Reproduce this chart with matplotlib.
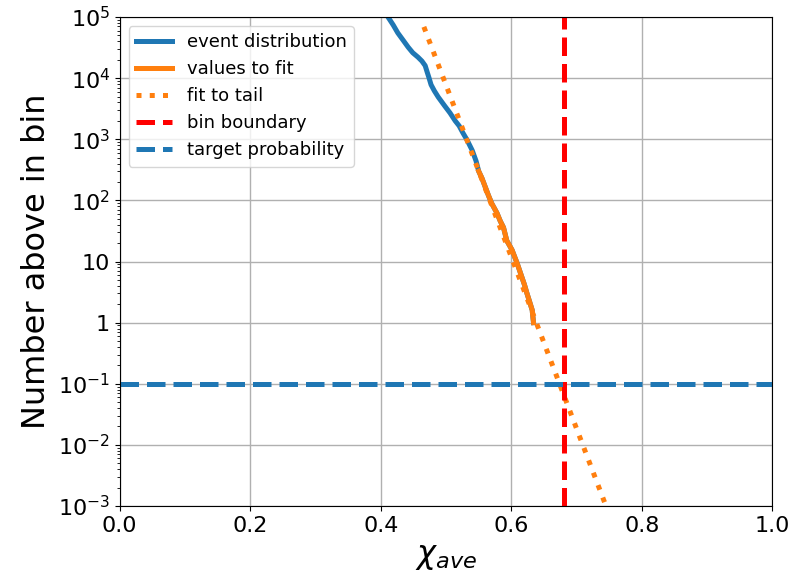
import matplotlib
matplotlib.use("Agg")
import matplotlib.pyplot as plt
import numpy as np
from matplotlib.ticker import FixedLocator, LogLocator, NullFormatter

# cumulative counts
dist_x = [0.405, 0.411, 0.419, 0.426, 0.434, 0.442, 0.449, 0.457, 0.463, 0.468,
          0.471, 0.474, 0.477, 0.482, 0.488, 0.498, 0.506, 0.514, 0.520, 0.526,
          0.532, 0.540, 0.546]
dist_y = [1.3e5, 1.0e5, 7.4e4, 5.5e4, 4.2e4, 3.2e4, 2.6e4, 2.2e4, 1.9e4, 1.6e4,
          1.26e4, 1.0e4, 7.8e3, 6.2e3, 4.9e3, 3.5e3, 2.7e3, 2.0e3, 1.66e3, 1.26e3,
          980, 660, 440]
fit_vals_x = [0.550, 0.555, 0.560, 0.565, 0.570, 0.578, 0.583, 0.588, 0.593, 0.601,
              0.605, 0.609, 0.616, 0.620, 0.624, 0.628, 0.632, 0.634]
fit_vals_y = [300, 230, 166, 120, 89, 62, 46, 36, 22, 15.5, 12, 9.3, 5.6, 4.2,
              3.0, 2.2, 1.6, 1.0]
tail_x = [0.466, 0.76]
tail_y = [6.9e4, 3.8e-4]
bin_edge = 0.68
target = 0.1

ytick_vals = [1e-3, 1e-2, 1e-1, 1, 10, 1e2, 1e3, 1e4, 1e5]
ytick_labels = ['$10^{-3}$', '$10^{-2}$', '$10^{-1}$', '1', '10',
                '$10^{2}$', '$10^{3}$', '$10^{4}$', '$10^{5}$']

fig = plt.figure(figsize=(7.93, 5.86), dpi=100)
ax = fig.add_axes([0.151, 0.1365, 0.823, 0.8345])

lw = 3.6
ax.plot(dist_x + fit_vals_x, dist_y + fit_vals_y, color='C0', lw=lw, label='event distribution')
ax.plot(fit_vals_x, fit_vals_y, color='C1', lw=lw, label='values to fit')
ax.plot(tail_x, tail_y, color='C1', lw=lw, ls=':', label='fit to tail')
ax.axvline(bin_edge, color='red', lw=lw, ls='--', label='bin boundary')
ax.axhline(target, color='C0', lw=lw, ls='--', label='target probability')

ax.set_yscale('log')
ax.set_xlim(0, 1)
ax.set_ylim(1e-3, 1e5)
ax.yaxis.set_major_locator(FixedLocator(ytick_vals))
ax.set_yticklabels(ytick_labels)
ax.yaxis.set_minor_locator(LogLocator(base=10, subs=np.arange(2, 10), numticks=20))
ax.yaxis.set_minor_formatter(NullFormatter())
ax.tick_params(labelsize=16)
ax.grid(True, which='major', color='#b0b0b0', lw=1)

ax.set_xlabel(r'$\chi_{ave}$', fontsize=23)
ax.set_ylabel('Number above in bin', fontsize=23)
ax.legend(loc='upper left', fontsize=13)

fig.savefig('out.png', dpi=100)
